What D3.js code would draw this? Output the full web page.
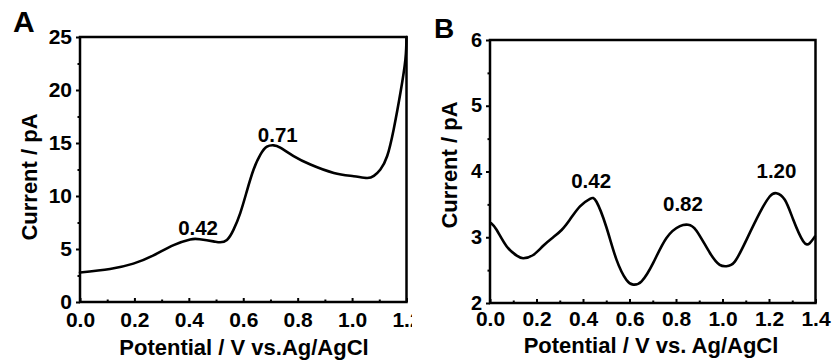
<!DOCTYPE html>
<html>
<head>
<meta charset="utf-8">
<script src="https://cdn.jsdelivr.net/npm/d3@7"></script>
<style>
  html, body { margin: 0; padding: 0; background: #fff; }
  svg { display: block; }
  text { font-family: "Liberation Sans", Arial, sans-serif; font-weight: bold; fill: #000; }
</style>
</head>
<body>
<svg id="chart" width="833" height="361"></svg>
<script>
// ---------- Panel A data ----------
const potentialA = [0.00, 0.11, 0.196, 0.27, 0.344, 0.405, 0.44, 0.49, 0.515, 0.54, 0.564, 0.589, 0.613, 0.638, 0.663, 0.687, 0.712, 0.736, 0.785, 0.847, 0.933, 1.006, 1.055, 1.08, 1.104, 1.129, 1.153, 1.178, 1.196, 1.20];
const currentA   = [2.78, 3.12, 3.62, 4.40, 5.36, 5.90, 5.92, 5.72, 5.63, 5.85, 6.80, 8.39, 10.44, 12.5, 13.9, 14.65, 14.78, 14.56, 13.77, 12.97, 12.18, 11.87, 11.70, 11.90, 12.5, 13.77, 16.3, 19.78, 22.9, 25.0];
const xTicksA = [0.0, 0.2, 0.4, 0.6, 0.8, 1.0, 1.2];
const yTicksA = [0, 5, 10, 15, 20, 25];
const peakLabelsA = ["0.42", "0.71"];
const peakXA = [0.434, 0.727];
const peakYA = [6.3, 15.1];

// ---------- Panel B data ----------
const potentialB = [0.004, 0.029, 0.072, 0.115, 0.143, 0.186, 0.229, 0.272, 0.308, 0.344, 0.387, 0.43, 0.458, 0.50, 0.544, 0.587, 0.616, 0.652, 0.702, 0.759, 0.817, 0.852, 0.888, 0.946, 0.988, 1.017, 1.053, 1.103, 1.16, 1.203, 1.232, 1.268, 1.304, 1.347, 1.375, 1.397];
const currentB   = [3.215, 3.11, 2.86, 2.72, 2.68, 2.73, 2.87, 3.00, 3.11, 3.27, 3.47, 3.585, 3.54, 3.16, 2.66, 2.35, 2.28, 2.33, 2.61, 2.99, 3.17, 3.19, 3.10, 2.76, 2.58, 2.56, 2.63, 2.96, 3.37, 3.62, 3.67, 3.57, 3.27, 2.94, 2.91, 3.01];
const xTicksB = [0.0, 0.2, 0.4, 0.6, 0.8, 1.0, 1.2, 1.4];
const yTicksB = [2, 3, 4, 5, 6];
const peakLabelsB = ["0.42", "0.82", "1.20"];
const peakXB = [0.435, 0.83, 1.232];
const peakYB = [3.75, 3.4, 3.9];

const svg = d3.select("#chart");

function panel(cfg) {
  const g = svg.append("g");
  if (cfg.clipW) {
    const id = "clip" + cfg.letter;
    svg.append("defs").append("clipPath").attr("id", id)
      .append("rect").attr("x", 0).attr("y", 0).attr("width", cfg.clipW).attr("height", 361);
    g.attr("clip-path", `url(#${id})`);
  }
  const x = d3.scaleLinear().domain(cfg.xDomain).range([cfg.left, cfg.right]);
  const y = d3.scaleLinear().domain(cfg.yDomain).range([cfg.bottom, cfg.top]);

  const xMinor = d3.range(cfg.xDomain[0], cfg.xDomain[1] + 1e-9, cfg.xStep / 2).filter((v, i) => i % 2 === 1);
  const yMinor = d3.range(cfg.yDomain[0], cfg.yDomain[1] + 1e-9, cfg.yStep / 2).filter((v, i) => i % 2 === 1);

  // X axis (ticks pointing inward)
  const xAxis = g.append("g").attr("transform", `translate(0,${cfg.bottom})`)
    .call(d3.axisBottom(x).tickValues(cfg.xTicks).tickFormat(d3.format(".1f")).tickSize(-4));
  xAxis.select(".domain").remove();
  xAxis.selectAll(".tick line").attr("stroke", "#000").attr("stroke-width", 2);
  xAxis.selectAll(".tick text").attr("font-size", 21).attr("y", cfg.xLabelY).attr("dy", 0);
  const xMin = g.append("g").attr("transform", `translate(0,${cfg.bottom})`)
    .call(d3.axisBottom(x).tickValues(xMinor).tickFormat("").tickSize(-2.5));
  xMin.select(".domain").remove();
  xMin.selectAll(".tick line").attr("stroke", "#000").attr("stroke-width", 2);

  // Y axis (ticks outward)
  const yAxis = g.append("g").attr("transform", `translate(${cfg.left},0)`)
    .call(d3.axisLeft(y).tickValues(cfg.yTicks).tickFormat(d3.format("d")).tickSize(4).tickPadding(4));
  yAxis.select(".domain").remove();
  yAxis.selectAll(".tick line").attr("stroke", "#000").attr("stroke-width", 2);
  yAxis.selectAll(".tick text").attr("font-size", cfg.yFont).attr("dy", "0.3em");
  const yMin = g.append("g").attr("transform", `translate(${cfg.left},0)`)
    .call(d3.axisLeft(y).tickValues(yMinor).tickFormat("").tickSize(2.5));
  yMin.select(".domain").remove();
  yMin.selectAll(".tick line").attr("stroke", "#000").attr("stroke-width", 2);

  // Frame
  g.append("rect")
    .attr("x", cfg.left).attr("y", cfg.top)
    .attr("width", cfg.right - cfg.left).attr("height", cfg.bottom - cfg.top)
    .attr("fill", "none").attr("stroke", "#000").attr("stroke-width", 2.5);

  // Curve
  const pts = cfg.xs.map((v, i) => [v, cfg.ys[i]]);
  g.append("path").datum(pts)
    .attr("fill", "none").attr("stroke", "#000").attr("stroke-width", 2.6)
    .attr("stroke-linejoin", "round").attr("stroke-linecap", "round")
    .attr("d", d3.line().x(d => x(d[0])).y(d => y(d[1])).curve(d3.curveNatural));

  // Peak labels
  g.selectAll(".peak").data(cfg.peakLabels).join("text")
    .attr("x", (d, i) => x(cfg.peakX[i])).attr("y", (d, i) => y(cfg.peakY[i]))
    .attr("text-anchor", "middle").attr("font-size", 20.5).text(d => d);

  // Axis titles
  g.append("text")
    .attr("x", cfg.xTitleX).attr("y", cfg.xTitleY)
    .attr("text-anchor", "middle").attr("font-size", 22).text(cfg.xTitle);
  g.append("text")
    .attr("transform", `translate(${cfg.yTitleX},${cfg.yTitleY}) rotate(-90)`)
    .attr("text-anchor", "middle").attr("font-size", 22).text(cfg.yTitle);

  // Panel letter
  g.append("text").attr("x", cfg.letterX).attr("y", cfg.letterY)
    .attr("font-size", cfg.letterSize).text(cfg.letter);
}

panel({
  letter: "A", letterX: 13, letterY: 32, letterSize: 30, clipW: 412,
  left: 80, right: 406.5, top: 37, bottom: 302,
  xDomain: [0, 1.2], yDomain: [0, 25], xStep: 0.2, yStep: 5,
  xTicks: xTicksA, yTicks: yTicksA, yFont: 21, xLabelY: 25,
  xs: potentialA, ys: currentA,
  peakLabels: peakLabelsA, peakX: peakXA, peakY: peakYA,
  xTitle: "Potential / V vs.Ag/AgCl", xTitleX: 244, xTitleY: 355,
  yTitle: "Current / pA", yTitleX: 37, yTitleY: 177
});

panel({
  letter: "B", letterX: 434, letterY: 38, letterSize: 28,
  left: 490, right: 815.5, top: 40, bottom: 303,
  xDomain: [0, 1.4], yDomain: [2, 6], xStep: 0.2, yStep: 1,
  xTicks: xTicksB, yTicks: yTicksB, yFont: 20, xLabelY: 23,
  xs: potentialB, ys: currentB,
  peakLabels: peakLabelsB, peakX: peakXB, peakY: peakYB,
  xTitle: "Potential / V vs. Ag/AgCl", xTitleX: 651, xTitleY: 353,
  yTitle: "Current / pA", yTitleX: 457, yTitleY: 165
});
</script>
</body>
</html>
